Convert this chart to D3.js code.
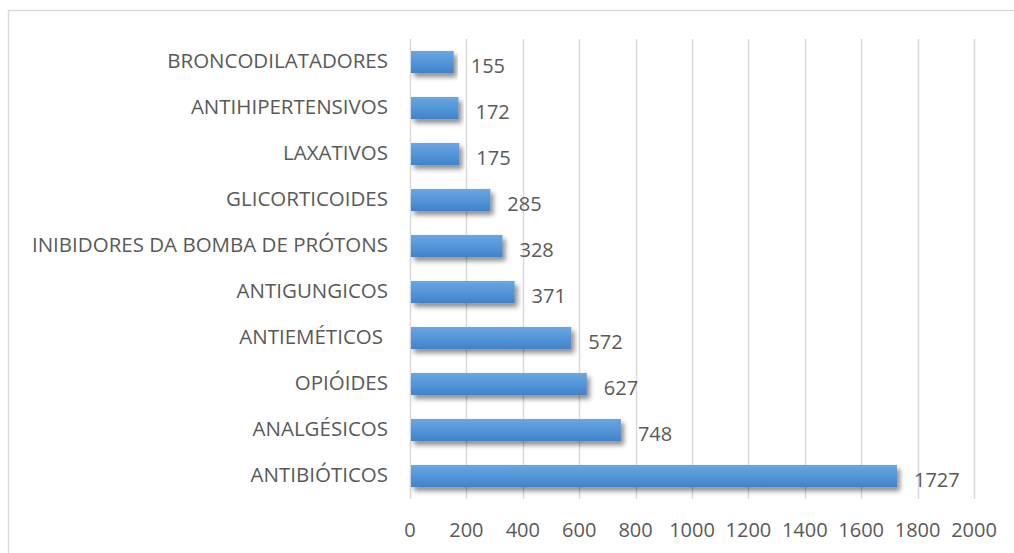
<!DOCTYPE html>
<html>
<head>
<meta charset="utf-8">
<script src="https://cdn.jsdelivr.net/npm/d3@7"></script>
<style>
  body { margin: 0; background: #fff; }
  text { font-family: "Open Sans", sans-serif; fill: #595959; }
</style>
</head>
<body>
<div id="container"></div>
<script>
/* DATA */
const categories = ["BRONCODILATADORES", "ANTIHIPERTENSIVOS", "LAXATIVOS", "GLICORTICOIDES",
  "INIBIDORES DA BOMBA DE PRÓTONS", "ANTIGUNGICOS", "ANTIEMÉTICOS ", "OPIÓIDES", "ANALGÉSICOS", "ANTIBIÓTICOS"];
const values = [155, 172, 175, 285, 328, 371, 572, 627, 748, 1727];
const xTicks = [0, 200, 400, 600, 800, 1000, 1200, 1400, 1600, 1800, 2000];

/* CONSTANTS */
const W = 1014, H = 553;
const plot = {left: 410, right: 974, top: 39, bottom: 499};

const svg = d3.select("#container")
  .append("svg")
  .attr("width", W)
  .attr("height", H);

// chart border
svg.append("rect")
  .attr("x", 8.5).attr("y", 10.5)
  .attr("width", W + 10).attr("height", H + 10)
  .attr("fill", "none")
  .attr("stroke", "#d9d9d9")
  .attr("stroke-width", 1.5);

const defs = svg.append("defs");
const grad = defs.append("linearGradient")
  .attr("id", "barGrad")
  .attr("x1", 0).attr("y1", 0).attr("x2", 0).attr("y2", 1);
grad.append("stop").attr("offset", "0%").attr("stop-color", "#6aa6e0");
grad.append("stop").attr("offset", "50%").attr("stop-color", "#5496d9");
grad.append("stop").attr("offset", "100%").attr("stop-color", "#3f82cb");

const shadow = defs.append("filter")
  .attr("id", "shadow")
  .attr("x", "-5%").attr("y", "-30%").attr("width", "115%").attr("height", "180%");
shadow.append("feGaussianBlur").attr("in", "SourceAlpha").attr("stdDeviation", 2.5).attr("result", "blur");
shadow.append("feOffset").attr("in", "blur").attr("dx", 3).attr("dy", 4).attr("result", "off");
shadow.append("feComponentTransfer").attr("in", "off").attr("result", "soft")
  .append("feFuncA").attr("type", "linear").attr("slope", 0.45);
const merge = shadow.append("feMerge");
merge.append("feMergeNode").attr("in", "soft");
merge.append("feMergeNode").attr("in", "SourceGraphic");

// SCALES
const xScale = d3.scaleLinear()
  .domain([0, 2000])
  .range([plot.left, plot.right]);

const yScale = d3.scaleBand()
  .domain(categories)
  .range([plot.top, plot.bottom])
  .paddingInner(0.52)
  .paddingOuter(0.26);

// GRIDLINES
svg.append("g")
  .selectAll("line")
  .data(xTicks)
  .join("line")
  .attr("x1", d => Math.round(xScale(d)) + 0.5)
  .attr("x2", d => Math.round(xScale(d)) + 0.5)
  .attr("y1", plot.top)
  .attr("y2", plot.bottom)
  .attr("stroke", "#d9d9d9")
  .attr("stroke-width", 1.5);

// X AXIS LABELS
svg.append("g")
  .selectAll("text")
  .data(xTicks)
  .join("text")
  .attr("x", d => xScale(d))
  .attr("y", 537)
  .attr("text-anchor", "middle")
  .style("font-size", "20px")
  .text(d => d);

// CATEGORY LABELS
svg.append("g")
  .selectAll("text")
  .data(categories)
  .join("text")
  .attr("x", 388)
  .attr("y", d => yScale(d) + yScale.bandwidth() / 2 - 1)
  .attr("dy", "0.35em")
  .attr("text-anchor", "end")
  .style("font-size", "20.5px")
  .text(d => d.trim())
  .attr("dx", d => d.endsWith(" ") ? -5 : 0);

// BARS
svg.append("g")
  .selectAll("rect")
  .data(values)
  .join("rect")
  .attr("x", xScale(0) + 1)
  .attr("y", (d, i) => yScale(categories[i]))
  .attr("width", d => xScale(d) - xScale(0) - 1)
  .attr("height", yScale.bandwidth())
  .attr("fill", "url(#barGrad)")
  .attr("filter", "url(#shadow)");

// VALUE LABELS
svg.append("g")
  .selectAll("text")
  .data(values)
  .join("text")
  .attr("x", d => xScale(d) + 17)
  .attr("y", (d, i) => yScale(categories[i]) + yScale.bandwidth() / 2 + 3.5)
  .attr("dy", "0.35em")
  .style("font-size", "20px")
  .text(d => d);
</script>
</body>
</html>
